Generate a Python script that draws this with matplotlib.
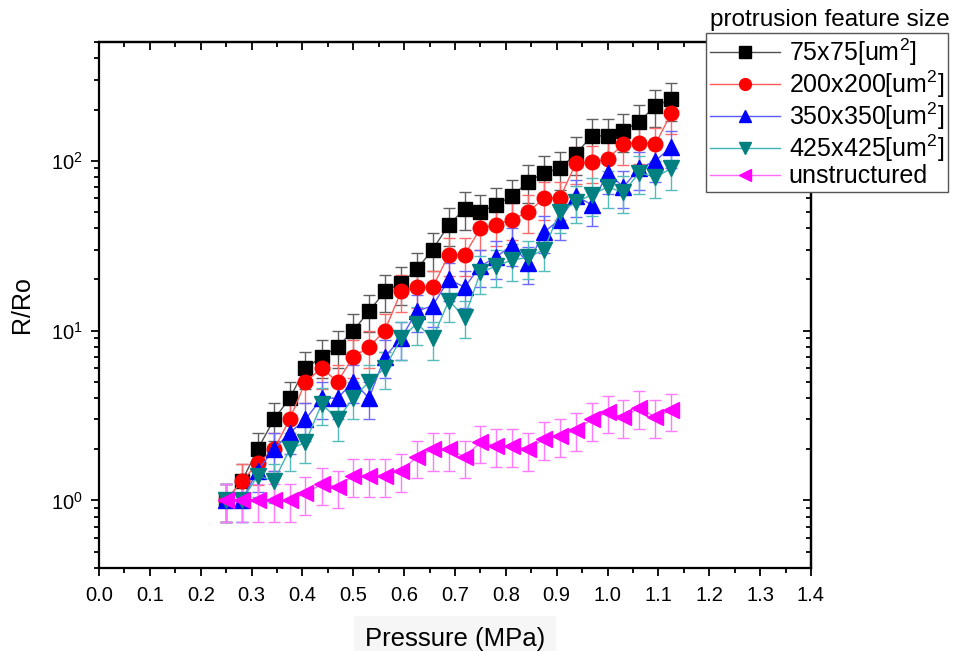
import numpy as np
import matplotlib
matplotlib.use("Agg")
import matplotlib.pyplot as plt
from matplotlib.lines import Line2D
from matplotlib.ticker import LogLocator, MultipleLocator, FormatStrFormatter, NullFormatter

plt.rcParams['font.family'] = ['Liberation Sans', 'DejaVu Sans']
plt.rcParams['mathtext.fontset'] = 'custom'
plt.rcParams['mathtext.rm'] = 'Liberation Sans'
plt.rcParams['mathtext.it'] = 'Liberation Sans:italic'
plt.rcParams['mathtext.bf'] = 'Liberation Sans:bold'

# pressure steps (MPa)
pressure = [0.25, 0.281, 0.312, 0.344, 0.375, 0.406, 0.438, 0.469, 0.5, 0.531,
            0.562, 0.594, 0.625, 0.656, 0.688, 0.719, 0.75, 0.781, 0.812, 0.844,
            0.875, 0.906, 0.938, 0.969, 1.0, 1.031, 1.062, 1.094, 1.125]

# R/Ro per protrusion size
r_75 = [1.0, 1.3, 2.0, 3.0, 4.0, 6.0, 7.0, 8.0, 10, 13, 17, 19, 23, 30, 42, 52, 50, 55,
        62, 75, 85, 90, 110, 140, 140, 150, 170, 210, 230]
e_75 = [0.25, 0.33, 0.5, 0.75, 1.0, 1.5, 1.75, 2.0, 2.5, 3.2, 4.2, 4.8, 5.8, 7.5, 10.5,
        13, 12.5, 14, 15.5, 19, 21, 22.5, 28, 35, 35, 38, 43, 52, 58]

r_200 = [1.0, 1.3, 1.65, 2.0, 3.0, 5.0, 6.0, 5.0, 7.0, 8.0, 10, 17, 18, 18, 28, 28, 40,
         42, 45, 50, 60, 60, 97, 98, 103, 125, 128, 125, 190]
e_200 = [0.25, 0.33, 0.41, 0.5, 0.75, 1.25, 1.5, 1.25, 1.75, 2.0, 2.5, 4.2, 4.5, 4.5, 7,
         7, 10, 10.5, 11, 12.5, 15, 15, 24, 24, 26, 31, 32, 31, 47]

r_350 = [1.0, 1.0, 1.5, 2.0, 2.5, 3.0, 4.0, 4.0, 5.0, 4.0, 7.0, 9.0, 13, 14, 20, 18, 24,
         27, 32, 25, 38, 45, 62, 55, 85, 70, 90, 100, 120]
e_350 = [0.25, 0.25, 0.38, 0.5, 0.62, 0.75, 1.0, 1.0, 1.25, 1.0, 1.75, 2.25, 3.2, 3.5, 5,
         4.5, 6, 6.8, 8, 6.2, 9.5, 11, 15.5, 14, 21, 17.5, 22.5, 25, 30]

r_425 = [1.0, 1.0, 1.4, 1.3, 2.0, 2.2, 3.7, 3.0, 4.0, 5.0, 6.0, 9.0, 11, 9.0, 15, 12, 22,
         24, 26, 27, 30, 50, 57, 63, 70, 65, 85, 80, 90]
e_425 = [0.25, 0.25, 0.35, 0.33, 0.5, 0.55, 0.92, 0.75, 1.0, 1.25, 1.5, 2.25, 2.8, 2.25,
         3.8, 3, 5.5, 6, 6.5, 6.8, 7.5, 12.5, 14, 16, 17.5, 16, 21, 20, 22.5]

r_flat = [1.0, 1.0, 1.0, 1.0, 1.0, 1.1, 1.25, 1.2, 1.4, 1.4, 1.4, 1.5, 1.8, 2.0, 2.0, 1.8,
          2.2, 2.1, 2.1, 2.0, 2.3, 2.4, 2.6, 3.0, 3.3, 3.1, 3.5, 3.1, 3.4]
e_flat = [0.25, 0.25, 0.25, 0.25, 0.25, 0.28, 0.31, 0.3, 0.35, 0.35, 0.35, 0.38, 0.45, 0.5,
          0.5, 0.45, 0.55, 0.52, 0.52, 0.5, 0.58, 0.6, 0.65, 0.75, 0.82, 0.78, 0.88, 0.78, 0.85]

labels = ["75x75[um$^2$]", "200x200[um$^2$]", "350x350[um$^2$]", "425x425[um$^2$]", "unstructured"]

# (values, errors, marker, marker colour, line colour, error colour, marker size)
series = [
    (r_75, e_75, 's', '#000000', '#505050', '#606060', 10),
    (r_200, e_200, 'o', '#ff0000', '#ff5a5a', '#ff6a6a', 10.5),
    (r_350, e_350, '^', '#0000ff', '#5a5aff', '#6a6aff', 11),
    (r_425, e_425, 'v', '#008080', '#40b4b4', '#55bcbc', 11),
    (r_flat, e_flat, '<', '#ff00ff', '#ff6aff', '#ff7aff', 11),
]

fig = plt.figure(figsize=(9.54, 6.51), dpi=100)
ax = fig.add_axes([99 / 954, 1 - 568 / 651, (811 - 99) / 954, (568 - 42) / 651])

handles = []
for (vals, errs, mk, mc, lc, ec, ms), lab in zip(series, labels):
    ax.errorbar(pressure, vals, yerr=errs, fmt='-', marker=mk, color=lc, lw=1,
                mfc=mc, mec=mc, ms=ms, ecolor=ec, elinewidth=1, capsize=4.5, capthick=1)
    handles.append(Line2D([], [], color=lc, lw=1, marker=mk, mfc=mc, mec=mc, ms=8.5))

ax.set_yscale('log')
ax.set_xlim(0.0, 1.4)
ax.set_ylim(0.4, 500)

ax.xaxis.set_major_locator(MultipleLocator(0.1))
ax.xaxis.set_minor_locator(MultipleLocator(0.05))
ax.xaxis.set_major_formatter(FormatStrFormatter('%.1f'))
ax.yaxis.set_major_locator(LogLocator(base=10, numticks=10))
ax.yaxis.set_minor_locator(LogLocator(base=10, subs=np.arange(2, 10), numticks=20))
ax.yaxis.set_minor_formatter(NullFormatter())

ax.tick_params(which='both', direction='out', width=1.3, labelsize=14.5, colors='black')
ax.tick_params(which='major', length=6)
ax.tick_params(which='minor', length=3.5)
ax.tick_params(axis='x', which='major', pad=7)
ax.tick_params(axis='y', which='major', pad=6)
for sp in ax.spines.values():
    sp.set_linewidth(1.6)

# inward ticks on top and right, no labels
top = ax.secondary_xaxis('top')
top.xaxis.set_major_locator(MultipleLocator(0.1))
top.xaxis.set_minor_locator(MultipleLocator(0.05))
top.tick_params(which='both', direction='in', width=1.3, labeltop=False)
top.tick_params(which='major', length=6)
top.tick_params(which='minor', length=3.5)
right = ax.secondary_yaxis('right')
right.yaxis.set_major_locator(LogLocator(base=10, numticks=10))
right.yaxis.set_minor_locator(LogLocator(base=10, subs=np.arange(2, 10), numticks=20))
right.tick_params(which='both', direction='in', width=1.3, labelright=False)
right.tick_params(which='major', length=6)
right.tick_params(which='minor', length=3.5)
for s in (top, right):
    for sp in s.spines.values():
        sp.set_linewidth(1.6)

ax.set_ylabel("R/Ro", fontsize=18, labelpad=12)
ax.set_xlabel("Pressure (MPa)", fontsize=18.5, labelpad=16,
              bbox=dict(facecolor='#f6f6f6', edgecolor='none', pad=8))

leg = fig.legend(handles, labels, loc='upper right', bbox_to_anchor=(948 / 954, 1 - 33 / 651),
                 bbox_transform=fig.transFigure, fontsize=18, frameon=True, fancybox=False,
                 edgecolor='#555555', framealpha=1, borderpad=0.15, labelspacing=0.02,
                 handlelength=2.8, handletextpad=0.35, borderaxespad=0)
leg.get_frame().set_linewidth(1.0)
leg.set_zorder(10)

fig.text(950 / 954, 1 - 20 / 651, "protrusion feature size", fontsize=17.5,
         ha='right', va='center')

fig.savefig("out.png", dpi=100)
